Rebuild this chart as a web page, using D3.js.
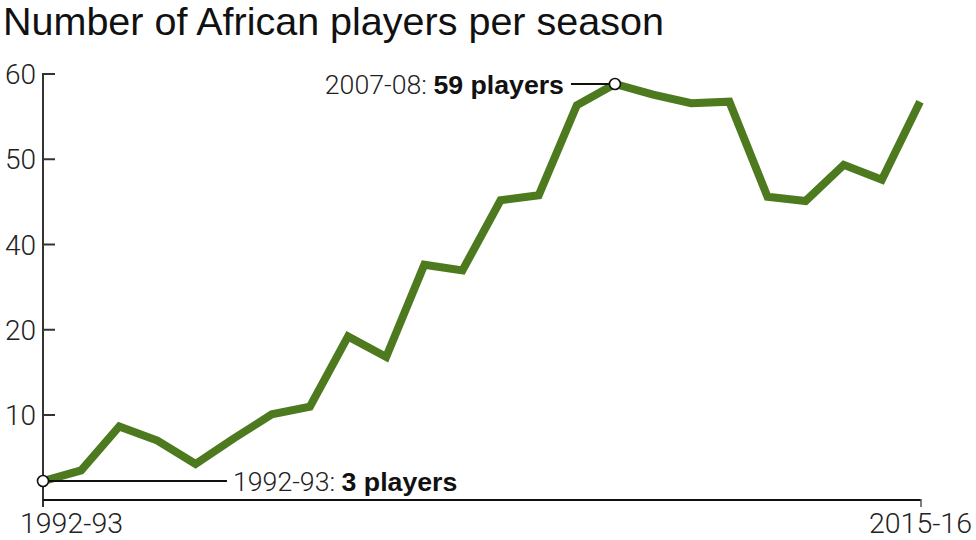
<!DOCTYPE html>
<html>
<head>
<meta charset="utf-8">
<script src="https://cdn.jsdelivr.net/npm/d3@7/dist/d3.min.js"></script>
<style>
  html, body { margin: 0; padding: 0; background: #fff; }
  svg { display: block; }
  .light { font-family: Roboto, "Liberation Sans", sans-serif; font-weight: 300; fill: #222; }
</style>
</head>
<body>
<svg id="chart" width="976" height="540"></svg>
<script>
const title = "Number of African players per season";
const seasons = ["1992-93","1993-94","1994-95","1995-96","1996-97","1997-98","1998-99","1999-00",
  "2000-01","2001-02","2002-03","2003-04","2004-05","2005-06","2006-07","2007-08",
  "2008-09","2009-10","2010-11","2011-12","2012-13","2013-14","2014-15","2015-16"];
const players = [3, 4.5, 10.7, 8.7, 5.4, 9, 12.4, 13.5, 23.4, 20.5, 33.5, 32.7,
  42.6, 43.3, 56, 59, 57.5, 56.3, 56.5, 43.1, 42.5, 47.6, 45.5, 56.5];
const yTickLabels = ["60", "50", "40", "20", "10"];
const xTickLabels = ["1992-93", "2015-16"];
const annotations = [
  { season: "1992-93", value: 3, pre: "1992-93: ", bold: "3 players", side: "right" },
  { season: "2007-08", value: 59, pre: "2007-08: ", bold: "59 players", side: "left" }
];

const svg = d3.select("#chart");
const x = d3.scalePoint().domain(seasons).range([43, 920]);
const y = d3.scaleLinear().domain([0, 60]).range([502.3, 76.9]);
const yTicks = d3.scalePoint().domain(yTickLabels).range([74, 415]);

// title
svg.append("text")
  .attr("x", 3).attr("y", 35)
  .attr("font-family", "'Liberation Sans', Arial, sans-serif")
  .attr("font-size", 39.5)
  .attr("fill", "#111")
  .text(title);

// y axis
const yAxisG = svg.append("g").attr("transform", "translate(43,0)");
yAxisG.append("line").attr("x1", 0).attr("x2", 0).attr("y1", 73).attr("y2", 507)
  .attr("stroke", "#333").attr("stroke-width", 2);
yAxisG.selectAll("line.tick").data(yTickLabels).join("line").attr("class", "tick")
  .attr("x1", 0).attr("x2", 12)
  .attr("y1", d => yTicks(d)).attr("y2", d => yTicks(d))
  .attr("stroke", "#333").attr("stroke-width", 2);
yAxisG.selectAll("text").data(yTickLabels).join("text")
  .attr("class", "light")
  .attr("x", -7).attr("y", d => yTicks(d))
  .attr("dy", "0.36em")
  .attr("text-anchor", "end")
  .attr("font-size", 28)
  .text(d => d);

// x axis
const x0 = x(seasons[0]), x1 = x(seasons[seasons.length - 1]);
svg.append("line").attr("x1", x0).attr("x2", x1 + 1).attr("y1", 500).attr("y2", 500)
  .attr("stroke", "#111").attr("stroke-width", 2);
svg.append("line").attr("x1", x1 + 1).attr("x2", x1 + 1).attr("y1", 499).attr("y2", 507)
  .attr("stroke", "#555").attr("stroke-width", 1.5);
svg.selectAll("text.xlab").data(xTickLabels).join("text").attr("class", "xlab light")
  .attr("x", (d, i) => i === 0 ? x(d) - 23 : x(d) + 52)
  .attr("y", 533)
  .attr("text-anchor", (d, i) => i === 0 ? "start" : "end")
  .attr("font-size", 28.5)
  .text(d => d);

// line
const lineGen = d3.line().x((d, i) => x(seasons[i])).y(d => y(d));
svg.append("path").datum(players)
  .attr("d", lineGen)
  .attr("fill", "none")
  .attr("stroke", "#4e7a1f")
  .attr("stroke-width", 8)
  .attr("stroke-linejoin", "miter")
  .attr("stroke-linecap", "butt");

// annotations
annotations.forEach(a => {
  const ax = x(a.season), ay = y(a.value);
  const g = svg.append("g");
  const lineEnd = a.side === "right" ? ax + 184 : ax - 44;
  g.append("line").attr("x1", ax).attr("x2", lineEnd).attr("y1", ay).attr("y2", ay)
    .attr("stroke", "#111").attr("stroke-width", 2);
  const t = g.append("text")
    .attr("x", a.side === "right" ? lineEnd + 6 : lineEnd - 7)
    .attr("y", ay).attr("dy", "0.36em")
    .attr("text-anchor", a.side === "right" ? "start" : "end")
    .attr("font-size", 26.7);
  t.append("tspan").attr("font-family", "Roboto, 'Liberation Sans', sans-serif")
    .attr("font-weight", 300).attr("fill", "#222").text(a.pre);
  t.append("tspan").attr("font-family", "'Liberation Sans', Arial, sans-serif")
    .attr("font-weight", 700).attr("fill", "#111").text(a.bold);
  g.append("circle").attr("cx", ax).attr("cy", ay).attr("r", 5.5)
    .attr("fill", "#fff").attr("stroke", "#111").attr("stroke-width", 1.6);
});
</script>
</body>
</html>
